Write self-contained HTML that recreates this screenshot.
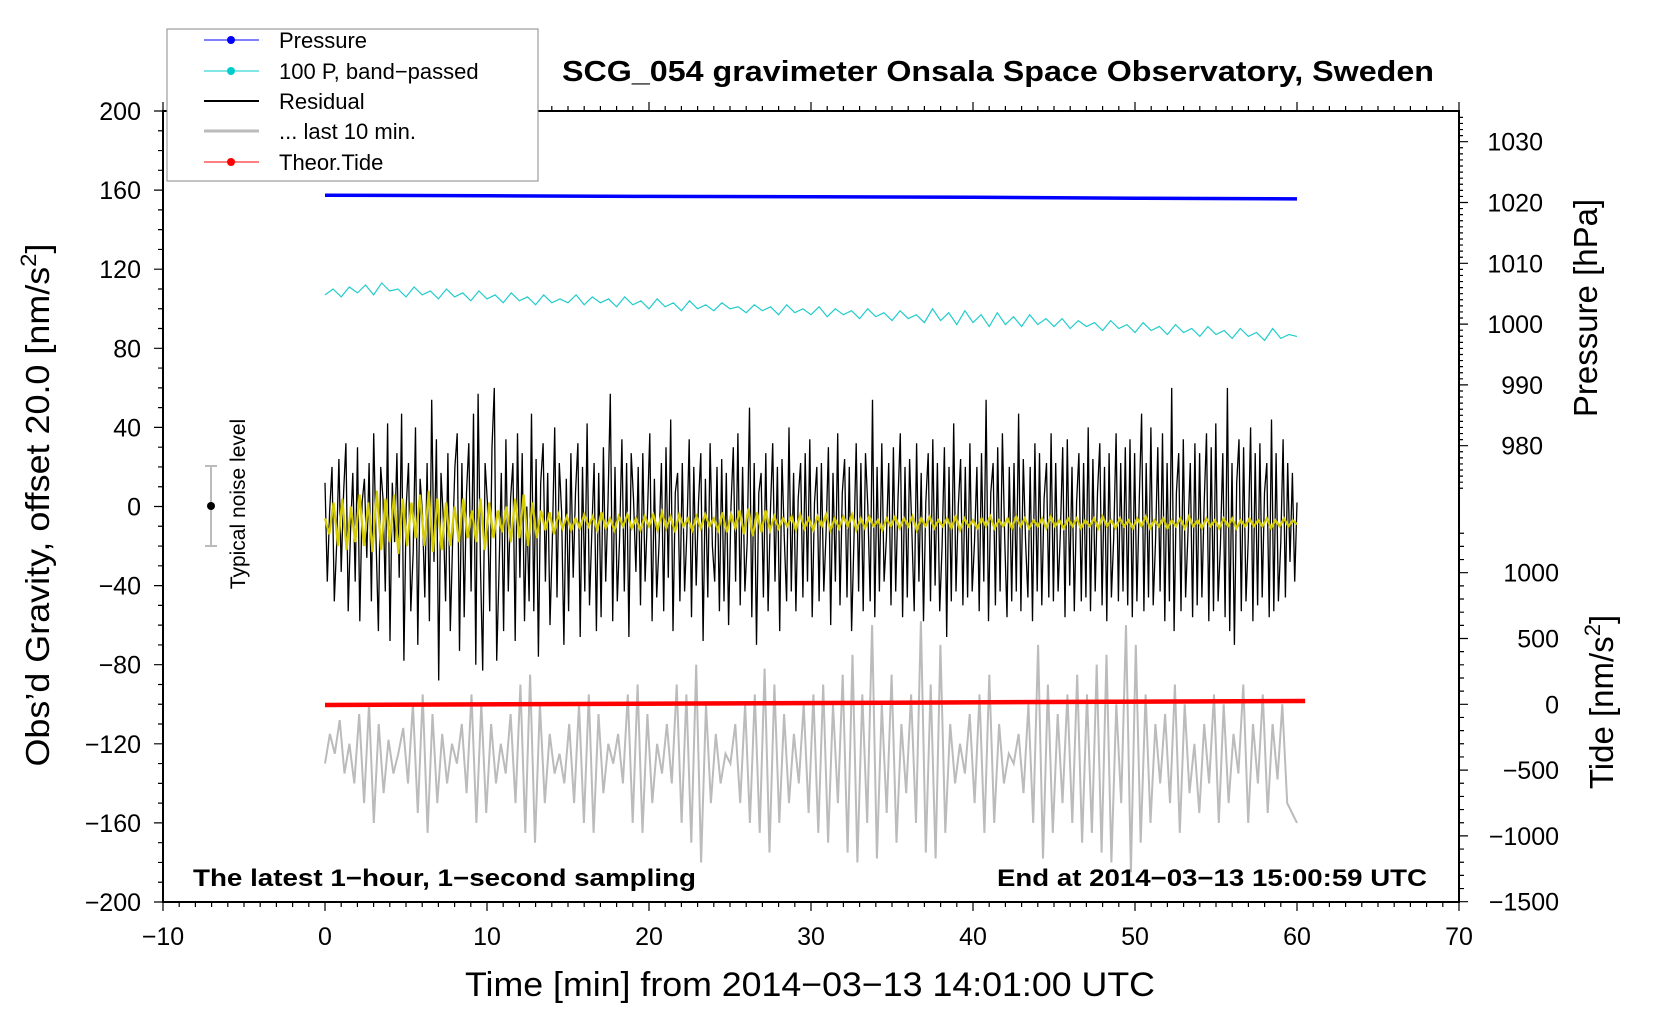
<!DOCTYPE html>
<html><head><meta charset="utf-8"><style>
html,body{margin:0;padding:0;background:#fff}
svg{display:block;font-family:"Liberation Sans",Arial,sans-serif}
</style></head><body>
<svg id="chart" width="1660" height="1020" viewBox="0 0 1660 1020" xmlns="http://www.w3.org/2000/svg">
<rect width="1660" height="1020" fill="#fff"/>
<g id="marks"></g>
<g id="axes"></g>
<text x="998" y="81" font-size="29" font-weight="bold" text-anchor="middle" textLength="872" lengthAdjust="spacingAndGlyphs">SCG_054 gravimeter Onsala Space Observatory, Sweden</text>
<text x="193" y="886" font-size="24" font-weight="bold" textLength="503" lengthAdjust="spacingAndGlyphs">The latest 1−hour, 1−second sampling</text>
<text x="1427" y="886" font-size="24" font-weight="bold" text-anchor="end" textLength="430" lengthAdjust="spacingAndGlyphs">End at 2014−03−13 15:00:59 UTC</text>
<text x="810" y="996" font-size="34" text-anchor="middle" textLength="690" lengthAdjust="spacingAndGlyphs">Time [min] from 2014−03−13 14:01:00 UTC</text>
<text transform="translate(49,505) rotate(-90)" font-size="33" text-anchor="middle" textLength="523" lengthAdjust="spacingAndGlyphs">Obs’d Gravity, offset 20.0 [nm/s<tspan font-size="22" dy="-13">2</tspan><tspan dy="13">]</tspan></text>
<text transform="translate(1597,308) rotate(-90)" font-size="33" text-anchor="middle">Pressure [hPa]</text>
<text transform="translate(1613,702) rotate(-90)" font-size="33" text-anchor="middle">Tide [nm/s<tspan font-size="22" dy="-13">2</tspan><tspan dy="13">]</tspan></text>
<g>
<line x1="211" y1="466" x2="211" y2="546" stroke="#bbb" stroke-width="2"/>
<line x1="205" y1="466" x2="217" y2="466" stroke="#bbb" stroke-width="2"/>
<line x1="205" y1="546" x2="217" y2="546" stroke="#bbb" stroke-width="2"/>
<circle cx="211" cy="506" r="4" fill="#000"/>
<text transform="translate(245,504) rotate(-90)" font-size="21" text-anchor="middle">Typical noise level</text>
</g>
<g>
<rect x="167" y="29" width="371" height="152" fill="#fff" stroke="#888" stroke-width="1"/>
<g><line x1="204" y1="40" x2="259" y2="40" stroke="#00f" stroke-width="1"/><circle cx="231" cy="40" r="4" fill="#00f"/><text x="279" y="48" font-size="22">Pressure</text></g>
<g><line x1="204" y1="71" x2="259" y2="71" stroke="#0cc" stroke-width="1"/><circle cx="231" cy="71" r="4" fill="#0cc"/><text x="279" y="79" font-size="22">100 P, band−passed</text></g>
<g><line x1="204" y1="101" x2="259" y2="101" stroke="#000" stroke-width="2"/><text x="279" y="109" font-size="22">Residual</text></g>
<g><line x1="204" y1="131" x2="259" y2="131" stroke="#bbb" stroke-width="3"/><text x="279" y="139" font-size="22">... last 10 min.</text></g>
<g><line x1="204" y1="162" x2="259" y2="162" stroke="#f00" stroke-width="1"/><circle cx="231" cy="162" r="4" fill="#f00"/><text x="279" y="170" font-size="22">Theor.Tide</text></g>
</g>
</svg>
<script>
const xTicks=[-10,0,10,20,30,40,50,60,70];
const gravityTicks=[200,160,120,80,40,0,-40,-80,-120,-160,-200];
const pressureTicks=[1030,1020,1010,1000,990,980];
const tideTicks=[1000,500,0,-500,-1000,-1500];
const pressureTimes=[0,10,20,30,40,50,60];
const pressureValues=[1021.2,1021.1,1021.0,1020.95,1020.85,1020.7,1020.6];
const tideTimes=[0,60.5];
const tideValues=[-5,25];
const residualOffset=-8;
const residual=[20,-30,5,28,-40,-12,32,-25,15,40,-45,-5,25,-30,38,-50,10,22,-18,30,-40,45,-8,-55,28,12,-35,50,-60,20,
-10,35,-28,55,-70,8,30,-45,-15,48,-62,22,5,-38,30,-50,62,-20,42,-80,25,2,-40,35,-55,-10,28,45,-65,30,
-48,15,40,-35,55,-72,65,-20,-75,30,10,-45,38,68,-70,-25,25,-55,42,-35,12,30,-60,45,-28,35,-50,8,-40,55,
-45,32,-68,20,40,-30,25,-52,-10,48,-38,30,5,-62,22,-45,35,-28,15,40,-58,28,-35,50,-42,-5,30,-55,25,-48,
38,-30,10,65,-50,28,-40,-8,42,-35,30,-58,35,12,-25,28,-42,35,-30,5,45,-50,22,-38,-10,30,-45,38,-28,52,
-55,15,25,-40,30,-35,-5,42,-48,28,-32,10,35,-60,22,-38,40,-12,-30,28,-45,32,-40,25,-52,8,38,-30,45,-42,
28,-35,-10,58,-48,30,-62,15,25,-38,35,-45,5,40,-30,28,-55,32,-8,-40,48,-35,25,-45,12,30,-38,35,-30,42,
-48,10,28,-40,30,-35,-5,38,-52,25,-30,45,-42,15,32,-38,28,-55,-10,40,-35,30,-45,35,8,-40,62,-48,28,-35,
40,-30,-8,30,-42,38,-35,12,45,-48,28,-38,32,-5,-45,40,-30,25,-50,10,35,-40,42,-32,30,-45,-12,38,-58,28,
-40,50,-35,8,32,-42,28,-38,40,-35,-10,28,-45,35,-30,62,-50,15,30,-42,38,-35,45,-8,-48,28,-40,30,-35,55,
-45,32,-10,-38,28,-50,40,-35,35,-42,12,30,-38,45,-40,30,-35,-5,38,-48,42,-32,28,-45,10,35,-40,30,-38,48,
-45,32,-35,15,40,-42,28,-50,35,-38,-8,45,-40,30,-35,38,-42,42,-48,35,-40,12,55,-45,30,-38,48,-42,-10,38,
-35,45,-50,30,-40,68,-55,15,35,-45,42,-38,-5,30,-48,40,-42,35,-38,10,45,-50,38,-45,50,-40,-12,35,-48,68,
-55,30,-62,20,42,-45,38,-40,-8,48,-50,35,-42,40,-38,15,30,-48,52,-45,35,-40,-10,42,-38,30,-20,25,-30,10];
const filtered=[-6,-14,2,-20,4,-22,0,-18,6,-20,2,-23,8,-22,4,-18,6,-24,4,-20,2,-16,6,-20,8,-23,4,-22,2,-20,0,-18,4,-16,-2,-18,4,-22,2,-16,-2,-13,0,-18,4,-16,6,-20,2,-16,-2,-12,-3,-14,-4,-11,
-5,-12,-6,-11,-4,-10,-5,-12,-3,-11,-6,-12,-5,-10,-4,-11,-6,-12,-5,-10,-4,-12,-3,-11,-5,-13,-4,-10,-6,-12,-5,-11,-4,-10,-6,-12,-3,-13,-4,-11,
-2,-14,-1,-15,-3,-13,-2,-12,-5,-11,-6,-10,-5,-12,-4,-11,-6,-12,-5,-10,-4,-12,-6,-11,-5,-10,-4,-12,-6,-11,-5,-10,-7,-12,-6,-10,-5,-11,-6,-10,
-5,-12,-6,-10,-5,-11,-7,-10,-6,-11,-5,-12,-6,-10,-7,-11,-6,-10,-5,-11,-7,-10,-6,-11,-5,-10,-6,-11,-7,-10,-6,-11,-5,-10,-7,-11,-6,-10,-6,-11,
-7,-10,-6,-11,-5,-10,-7,-11,-6,-10,-7,-11,-6,-10,-5,-11,-7,-10,-6,-11,-7,-10,-6,-11,-5,-10,-7,-11,-6,-10,-7,-11,-6,-10,-6,-11,-7,-10,-6,-10,
-7,-10,-6,-11,-7,-10,-6,-10,-7,-9];
const lastTen=[-130,-115,-125,-108,-135,-120,-140,-105,-150,-100,-160,-110,-145,-118,-135,-125,-112,-140,-100,-155,-95,-165,-105,-150,-115,-140,-120,-130,-110,-145,
-95,-160,-100,-155,-110,-140,-120,-135,-105,-150,-90,-165,-85,-170,-100,-150,-115,-135,-125,-140,-110,-150,-100,-160,-95,-165,-105,-145,-120,-130,
-115,-140,-95,-160,-90,-165,-105,-150,-120,-135,-110,-140,-90,-160,-95,-170,-80,-180,-100,-150,-115,-140,-125,-130,-110,-150,-100,-160,-95,-165,
-82,-175,-90,-160,-105,-150,-115,-140,-100,-155,-95,-165,-90,-170,-100,-150,-85,-175,-75,-180,-95,-160,-60,-178,-100,-155,-85,-170,-110,-145,
-95,-160,-58,-175,-90,-178,-70,-165,-110,-140,-120,-135,-105,-150,-95,-165,-85,-160,-110,-140,-125,-130,-115,-145,-100,-160,-70,-178,-90,-165,
-105,-150,-95,-160,-85,-170,-95,-165,-80,-175,-75,-180,-100,-150,-60,-185,-70,-170,-95,-160,-110,-140,-105,-150,-90,-165,-100,-145,-120,-155,
-110,-140,-95,-160,-100,-150,-115,-135,-90,-160,-110,-140,-95,-155,-110,-138,-100,-150,-155,-160];
const bandPassed=[107,110,106,111,108,112,107,113,109,110,106,111,107,109,105,110,106,108,104,109,105,107,103,108,104,106,102,107,103,105,
103,107,102,106,103,105,101,106,102,104,100,105,101,103,99,104,100,102,99,103,100,101,98,102,99,101,97,102,98,100,
97,101,96,100,97,99,95,100,96,98,94,99,95,97,93,100,94,98,92,99,93,97,91,98,92,96,91,97,92,95,
91,95,90,94,91,93,89,94,90,92,88,93,89,91,87,92,88,90,86,91,87,89,85,90,86,88,84,90,85,87,86];

const NS='http://www.w3.org/2000/svg';
function xS(t){return 163+(t+10)*16.2;}
function yG(g){return 111+(200-g)*1.9775;}
function yP(p){return 141.7+(1030-p)*6.08;}
function yT(v){return 704.3-v*0.1316;}
const marks=document.getElementById('marks');
const axes=document.getElementById('axes');
function mk(tag,attrs,parent){const e=document.createElementNS(NS,tag);for(const k in attrs)e.setAttribute(k,attrs[k]);parent.appendChild(e);return e;}
function linePath(vals,tStart,tEnd,yfn,off){let d='';const n=vals.length;for(let i=0;i<n;i++){const t=tStart+(tEnd-tStart)*i/(n-1);d+=(i?'L':'M')+xS(t).toFixed(1)+','+yfn(vals[i]+(off||0)).toFixed(1);}return d;}

let p;
p=mk('path',{d:linePath(lastTen,0,60,yG),fill:'none',stroke:'#bbb','stroke-width':2},marks);


p=mk('path',{d:linePath(bandPassed,0,60,yG),fill:'none',stroke:'#2cc','stroke-width':1.2},marks);


p=mk('path',{d:linePath(residual,0,60,yG,residualOffset),fill:'none',stroke:'#000','stroke-width':1.3},marks);


p=mk('path',{d:linePath(filtered,0,60,yG),fill:'none',stroke:'#d4cc00','stroke-width':2.2},marks);


let dp='';pressureTimes.forEach((t,i)=>{dp+=(i?'L':'M')+xS(t).toFixed(1)+','+yP(pressureValues[i]).toFixed(1);});
p=mk('path',{d:dp,fill:'none',stroke:'#00f','stroke-width':3.5},marks);


let dt='';tideTimes.forEach((t,i)=>{dt+=(i?'L':'M')+xS(t).toFixed(1)+','+yT(tideValues[i]).toFixed(1);});
p=mk('path',{d:dt,fill:'none',stroke:'#f00','stroke-width':4.5},marks);



const fr=mk('rect',{x:xS(-10),y:yG(200),width:xS(70)-xS(-10),height:yG(-200)-yG(200),fill:'none',stroke:'#000','stroke-width':2},axes);


let tk='';
for(let t=-10;t<=70;t++){const L=(t%10===0)?9:5;const x=xS(t);tk+='M'+x+','+yG(-200)+'v'+L+'M'+x+','+yG(200)+'v'+(-L);}
for(let g=-200;g<=200;g+=10){const L=(g%40===0)?9:5;tk+='M'+xS(-10)+','+yG(g)+'h'+(-L);}
for(let pr=1034;pr>=973;pr--){const L=(pr%10===0)?9:4;tk+='M'+xS(70)+','+yP(pr)+'h'+L;}
for(let v=-1500;v<=1300;v+=100){const L=(v%500===0)?9:5;tk+='M'+xS(70)+','+yT(v)+'h'+L;}
p=mk('path',{d:tk,stroke:'#000','stroke-width':1.2,fill:'none'},axes);


function lbl(txt,x,y,anchor,name){const e=mk('text',{x:x,y:y,'font-size':25,'text-anchor':anchor},axes);e.textContent=txt;}
xTicks.forEach(v=>{lbl(String(v).replace('-','−'),xS(v),945,'middle','x-tick-label');});
gravityTicks.forEach(v=>{lbl(String(v).replace('-','−'),141,yG(v)+9,'end','gravity-tick-label');});
pressureTicks.forEach(v=>{lbl(String(v),1543,yP(v)+9,'end','pressure-tick-label');});
tideTicks.forEach(v=>{lbl(String(v).replace('-','−'),1559,yT(v)+9,'end','tide-tick-label');});
</script>
</body></html>
